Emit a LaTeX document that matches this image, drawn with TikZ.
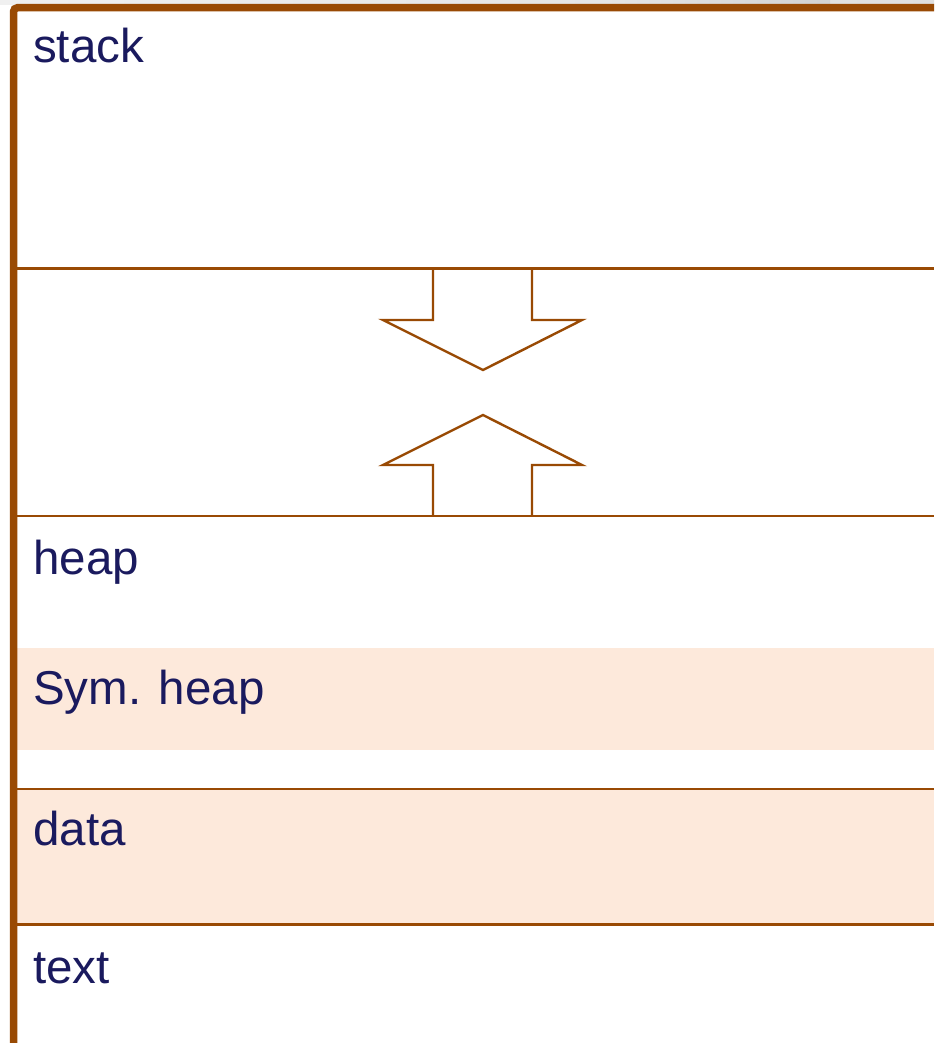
\documentclass[tikz,border=0pt]{standalone}
\usepackage{fontspec}
\setmainfont{Liberation Sans}
\definecolor{brn}{HTML}{994A04}
\definecolor{ink}{HTML}{1A1A5E}
\definecolor{peach}{HTML}{FDE9DB}
\begin{document}
\begin{tikzpicture}[x=1pt,y=-1pt,
  sep/.style={draw=brn,line width=2.4pt},
  arr/.style={draw=brn,line width=2.4pt,line join=miter},
  lbl/.style={anchor=base west,inner sep=0pt,text=ink,font=\fontsize{47.5}{52}\selectfont}]
\useasboundingbox (0,0) rectangle (934,1043);
\clip (0,0) rectangle (934,1043);
\fill[white] (0,0) rectangle (934,1043);
% top grey strip
\shade[left color=gray!12,right color=gray!25] (0,0) rectangle (934,4.5);
\shade[left color=gray!20,right color=gray!35] (600,0) rectangle (830,4);
% fills
\fill[peach] (17,648) rectangle (934,750);
\fill[peach] (17,789) rectangle (934,924);
% arrows
\draw[arr] (433,268.5) -- (433,320) -- (383,320) -- (483,370) -- (582,320) -- (532,320) -- (532,268.5);
\draw[arr] (433,516) -- (433,465) -- (383,465) -- (483,415) -- (582,465) -- (532,465) -- (532,516);
% separators
\draw[sep] (17,268.5) -- (934,268.5);
\draw[sep] (17,516) -- (934,516);
\draw[sep] (17,789) -- (934,789);
\draw[sep] (17,924.5) -- (934,924.5);
% outer border
\draw[brn,line width=7.5pt,rounded corners=4pt] (13.5,1050) -- (13.5,7.7) -- (940,7.7);
% labels
\node[lbl] (stack) at (33,63) {stack};
\node[lbl] (heap) at (33,574) {heap};
\node[lbl] (symheap) at (33,704) {Sym. heap};
\node[lbl] (data) at (33,845) {data};
\node[lbl] (text) at (33,983) {text};
\end{tikzpicture}
\end{document}
